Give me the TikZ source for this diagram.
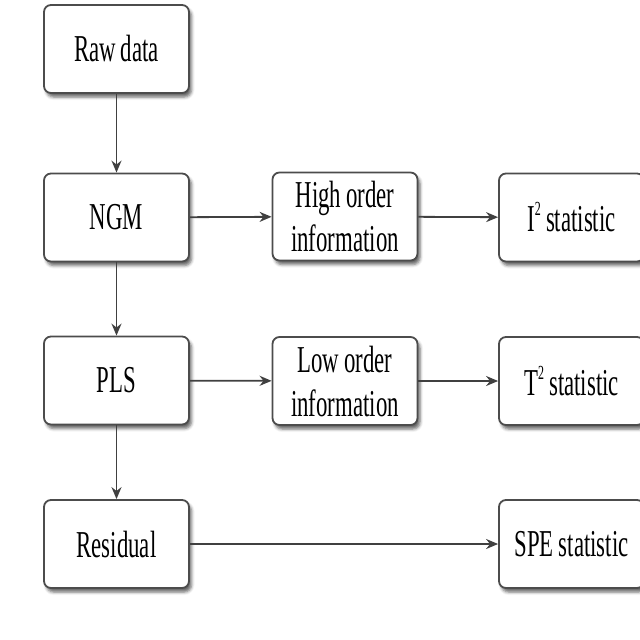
\documentclass[tikz,border=0pt]{standalone}
\usepackage{fontspec}
\setmainfont[FakeStretch=0.6,WordSpace=0.9]{Liberation Serif}
\usetikzlibrary{shadows.blur,arrows.meta}
\newcommand{\supsc}[1]{\raisebox{0.42em}{\fontsize{20}{20}\selectfont #1}}
\begin{document}
\begin{tikzpicture}[x=1pt,y=-1pt,
  box/.style={draw=black!70, line width=1.8pt, rounded corners=7pt, fill=white,
    minimum width=145pt, minimum height=88pt, inner sep=0pt, align=center,
    font=\fontsize{38}{44}\selectfont,
    blur shadow={shadow xshift=2.5pt, shadow yshift=-4pt, shadow blur radius=3pt, shadow opacity=60}},
  conn/.style={draw=black!75, line width=1.8pt, -{Stealth[length=12pt,width=10pt]}}]
\useasboundingbox (0,0) rectangle (640,640);
\clip (0,0) rectangle (640,640);
\node[box] (raw) at (116.5,49) {Raw data};
\node[box] (ngm) at (116.5,217.5) {NGM};
\node[box] (pls) at (116.5,380.5) {PLS};
\node[box] (res) at (116.5,544) {Residual};
\node[box] (high) at (345,216.5) {High order\\information};
\node[box] (low) at (345,381) {Low order\\information};
\node[box] (i2) at (571.5,217.5) {I\supsc{2} statistic};
\node[box] (t2) at (571.5,381) {T\supsc{2} statistic};
\node[box] (spe) at (571.5,544) {SPE statistic};
\draw[conn] (raw) -- (ngm);
\draw[conn] (ngm) -- (pls);
\draw[conn] (pls) -- (res);
\draw[conn] (ngm) -- (high);
\draw[conn] (high) -- (i2);
\draw[conn] (pls) -- (low);
\draw[conn] (low) -- (t2);
\draw[conn] (res) -- (spe);
\end{tikzpicture}
\end{document}
